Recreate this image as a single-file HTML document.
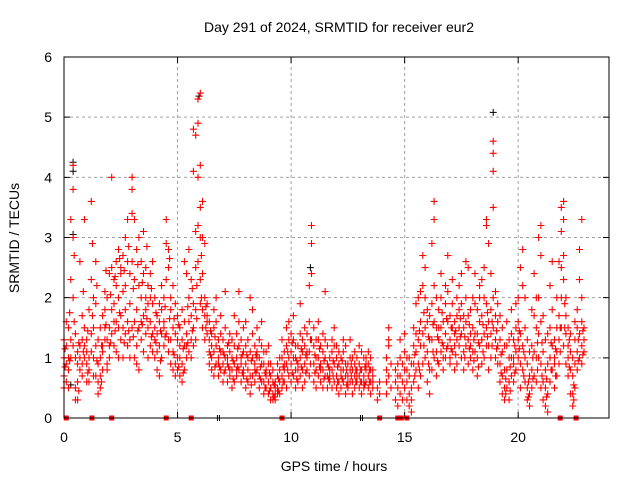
<!DOCTYPE html>
<html><head><meta charset="utf-8"><style>
html,body{margin:0;padding:0;background:#fff}
svg{display:block;font-family:"Liberation Sans",sans-serif}
</style></head><body>
<svg id="chart" width="640" height="480" viewBox="0 0 640 480">
<rect width="640" height="480" fill="#fff"/>
<text x="339" y="32" text-anchor="middle" font-size="14" fill="#000">Day 291 of 2024, SRMTID for receiver eur2</text>
<text x="334" y="471" text-anchor="middle" font-size="14" fill="#000">GPS time / hours</text>
<text transform="translate(19,238) rotate(-90)" text-anchor="middle" font-size="14" fill="#000">SRMTID / TECUs</text>
<g id="grid"></g>
<g id="ticks"></g>
<g id="black"></g>
<g id="red"></g>
<g id="zero"></g>
<rect x="64" y="57" width="545" height="361" fill="none" stroke="#000" stroke-width="1"/>
</svg>
<script>
const xTicks = [0, 5, 10, 15, 20];
const yTicks = [0, 1, 2, 3, 4, 5, 6];
const redData = [
[0.0,0.7,1.0,1.3,0.5],[0.1,0.9,1.2,1.6,0.6],[0.2,1.0,0.8,1.5,0.5],[0.3,1.3,2.3,3.3,1.0],[0.4,4.2,3.8,3.0,2.0,1.2],
[0.5,1.0,0.5,0.3,1.4],[0.6,0.3,0.6,0.9,1.1],[0.7,0.8,1.2,2.6,1.0],[0.8,1.3,0.9,0.7,1.7],[0.9,1.0,1.5,3.3,1.2],
[1.0,1.1,0.9,0.6,1.3],[1.1,0.6,1.0,1.8,0.8],[1.2,1.4,2.3,3.6,1.1],[1.3,1.5,2.0,1.0,0.7],[1.4,0.7,1.2,1.9,2.6],
[1.5,0.6,0.4,0.9,1.3],[1.6,0.5,0.7,1.0,1.5],[1.7,0.8,1.2,1.7,1.1],[1.8,1.3,1.8,2.1,1.5],[1.9,0.8,1.3,2.0,0.9],
[2.0,1.0,1.5,2.4,1.2],[2.1,1.8,2.5,4.0,1.4],[2.2,1.2,1.9,2.3,1.6],[2.3,1.6,2.2,2.6,1.1],[2.4,1.5,2.0,2.8,1.0],
[2.5,1.7,2.4,2.5,1.3],[2.6,1.0,1.5,2.1,2.7],[2.7,1.4,2.2,3.0,1.8],[2.8,1.6,2.6,3.3,1.2],[2.9,1.3,1.9,2.4,1.0],
[3.0,1.5,2.6,4.0,3.8,3.4],[3.1,1.0,1.6,2.3,3.3],[3.2,1.2,1.8,2.8,0.9],[3.3,0.8,1.5,2.2,3.0],[3.4,1.3,2.0,2.6,1.6],
[3.5,1.7,2.4,3.1,1.1],[3.6,1.4,2.0,2.5,1.8],[3.7,1.5,1.9,2.2,1.0],[3.8,1.2,1.6,2.0,2.4],[3.9,1.4,1.9,2.6,1.1],
[4.0,1.0,1.5,2.0,1.3],[4.1,1.1,1.7,1.4,0.8],[4.2,0.7,1.2,1.6,1.9],[4.3,1.0,1.4,1.8,2.2],[4.4,1.2,1.6,2.0,1.5],
[4.5,1.4,2.3,2.9,3.3],[4.6,1.3,2.5,2.8,1.1],[4.7,0.9,1.3,1.8,2.0],[4.8,0.8,1.1,1.5,2.2],[4.9,0.9,1.4,1.9,0.7],
[5.0,1.0,1.3,1.7,0.8],[5.1,0.7,1.0,1.5,1.2],[5.2,0.6,0.9,1.3,1.8],[5.3,0.8,1.2,1.6,2.6],[5.4,1.0,1.4,2.4,1.2],
[5.5,1.1,1.6,2.0,2.8],[5.6,1.3,1.7,2.3,1.0],[5.7,1.2,1.5,1.9,4.1,4.8],[5.8,1.3,1.8,2.5,3.1,4.7],[5.9,2.6,3.2,4.0,4.9,5.3],
[6.0,1.9,2.3,3.0,3.5,4.2,5.4],[6.1,1.5,1.8,2.4,3.0,3.6],[6.2,1.3,1.7,2.0,2.9],[6.3,1.4,1.7,1.9,1.6],[6.4,0.9,1.3,1.6,1.1],
[6.5,0.8,1.0,1.4,1.2],[6.6,0.7,1.1,1.5,1.8],[6.7,0.9,1.2,1.6,2.0],[6.8,0.7,1.0,1.3,0.9],[6.9,0.8,1.1,1.4,1.7],
[7.0,0.9,1.3,1.1,0.6],[7.1,0.8,1.0,1.5,2.1],[7.2,0.6,0.9,1.2,1.0],[7.3,0.7,1.1,1.4,0.8],[7.4,0.5,0.8,1.0,1.3],
[7.5,0.6,0.9,1.2,1.7],[7.6,0.7,1.0,1.4,0.8],[7.7,0.8,1.2,1.6,2.1],[7.8,0.6,0.9,1.3,1.0],[7.9,0.7,1.1,1.5,0.8],
[8.0,0.5,0.9,1.2,1.6],[8.1,0.6,0.8,1.0,1.3],[8.2,0.4,0.7,1.1,2.0],[8.3,0.7,1.0,1.4,1.8],[8.4,0.6,0.9,1.2,0.8],
[8.5,0.8,1.1,1.5,1.0],[8.6,0.5,0.7,1.0,1.3],[8.7,0.6,0.9,1.2,1.6],[8.8,0.4,0.6,0.9,1.1],[8.9,0.5,0.8,1.1,0.7],
[9.0,0.4,0.6,0.9,1.2],[9.1,0.3,0.5,0.7,0.9],[9.2,0.3,0.4,0.6,0.8],[9.3,0.3,0.5,0.6,0.4],[9.4,0.4,0.5,0.7,0.9],
[9.5,0.4,0.6,0.8,1.0],[9.6,0.5,0.7,1.0,1.3],[9.7,0.6,0.8,1.1,0.9],[9.8,0.5,0.9,1.2,1.5],[9.9,0.7,1.0,1.3,1.6],
[10.0,0.6,0.9,1.1,1.4],[10.1,0.7,1.0,1.3,1.7],[10.2,0.5,0.8,1.0,1.2],[10.3,0.6,0.9,1.2,0.8],[10.4,0.7,1.0,1.4,1.9],
[10.5,0.5,0.8,1.1,1.3],[10.6,0.6,0.9,1.2,1.5],[10.7,0.8,1.0,1.4,1.1],[10.8,0.7,1.1,1.6,2.2],[10.9,1.3,2.4,2.9,3.2],
[11.0,0.6,0.9,1.2,1.5],[11.1,0.5,0.8,1.0,1.3],[11.2,0.7,1.0,1.3,1.6],[11.3,0.6,0.9,1.2,0.8],[11.4,0.5,0.8,1.1,1.4],
[11.5,0.7,1.0,1.3,2.1],[11.6,0.5,0.7,0.9,1.2],[11.7,0.6,0.8,1.0,0.7],[11.8,0.5,0.8,1.1,1.3],[11.9,0.6,0.9,1.2,1.5],
[12.0,0.5,0.7,1.0,1.2],[12.1,0.4,0.6,0.9,1.1],[12.2,0.5,0.8,1.0,0.7],[12.3,0.6,0.8,1.1,1.3],[12.4,0.4,0.7,0.9,1.2],
[12.5,0.5,0.7,0.9,0.6],[12.6,0.6,0.8,1.0,1.3],[12.7,0.4,0.6,0.8,1.0],[12.8,0.5,0.7,0.9,1.1],[12.9,0.6,0.8,1.0,0.7],
[13.0,0.5,0.7,0.9,1.2],[13.1,0.4,0.6,0.8,1.1],[13.2,0.5,0.7,1.0,0.6],[13.3,0.6,0.8,1.0,0.9],[13.4,0.5,0.7,0.9,1.1],
[13.5,0.4,0.6,0.8,1.0],[13.6,0.5,0.7,0.8,0.6],[13.8,0.3,0.5],[13.9,0.4,0.6],
[14.2,0.4,0.6,0.8,1.0],[14.3,0.7,1.2,1.5,1.3],[14.4,0.5,0.9],[14.6,0.3,0.6,0.8],[14.7,0.2,0.5,0.7,0.9],
[14.8,0.4,0.7,1.0,1.3],[14.9,0.3,0.6,0.9],[15.0,0.5,0.8,1.1,1.4],[15.1,0.3,0.6,0.8,1.0],[15.2,0.2,0.4,0.7,1.0],
[15.3,0.1,0.3,0.5,0.9],[15.4,0.6,0.9,1.2,1.5],[15.5,0.8,1.1,1.4,1.9],[15.6,0.5,0.9,1.3,2.0],[15.7,0.7,1.2,1.6,2.1],
[15.8,0.9,1.4,2.2,2.7],[15.9,1.0,1.5,2.0,2.5],[16.0,0.6,1.1,1.6,1.8],[16.1,0.4,0.8,1.3,1.7],[16.2,0.8,1.3,1.9,2.9],
[16.3,1.0,1.6,2.2,3.3,3.6],[16.4,0.7,1.1,1.5,2.0],[16.5,0.9,1.3,1.8,1.5],[16.6,1.1,1.5,2.0,2.4],[16.7,0.8,1.2,1.6,1.0],
[16.8,1.0,1.4,1.9,2.2],[16.9,1.2,1.6,2.1,2.7],[17.0,1.0,1.3,1.7,0.9],[17.1,1.1,1.5,1.9,2.3],[17.2,0.8,1.2,1.6,1.4],
[17.3,0.9,1.3,1.7,2.0],[17.4,1.2,1.5,1.8,2.2],[17.5,1.0,1.4,1.9,2.4],[17.6,0.8,1.1,1.5,1.7],[17.7,1.2,1.6,2.0,2.6],
[17.8,0.9,1.3,1.7,2.5],[17.9,1.0,1.4,1.8,1.2],[18.0,0.8,1.1,1.5,2.0],[18.1,1.1,1.4,1.9,2.4],[18.2,0.7,1.0,1.4,1.8],
[18.3,1.2,1.6,2.0,2.2],[18.4,0.9,1.3,1.7,2.3],[18.5,1.0,1.4,2.0,2.5],[18.6,1.2,1.5,1.9,3.2,3.3],[18.7,0.8,1.2,1.6,2.9],
[18.8,1.0,1.4,1.8,2.4],[18.9,1.5,2.0,3.5,4.1,4.4,4.6],[19.0,1.0,1.3,1.7,2.1],[19.1,0.9,1.2,1.6,1.9],[19.2,0.6,0.9,1.3,1.7],
[19.3,0.4,0.7,1.1,1.5],[19.4,0.3,0.5,0.8,1.2],[19.5,0.5,0.8,1.2,1.6],[19.6,0.3,0.6,1.0,1.3],[19.7,0.7,1.0,1.4,1.8],
[19.8,0.6,1.0,1.3,0.9],[19.9,0.8,1.1,1.5,1.9],[20.0,1.0,1.3,1.6,2.0],[20.1,0.5,0.9,1.4,2.5],[20.2,0.8,1.2,2.2,2.8],
[20.3,0.6,1.0,1.5,2.0],[20.4,0.3,0.5,0.9,1.3],[20.5,0.2,0.4,0.7,1.1],[20.6,0.5,0.8,1.2,1.8],[20.7,0.7,1.1,1.7,2.4],
[20.8,0.6,1.0,1.5,2.0],[20.9,1.0,1.4,2.0,3.0],[21.0,0.5,0.9,1.6,2.7,3.2],[21.1,0.3,0.6,1.1,1.7],[21.2,0.2,0.5,0.8,1.3],
[21.3,0.1,0.4,0.9,1.4],[21.4,0.6,1.0,1.5,2.2],[21.5,0.8,1.2,1.8,2.6],[21.6,0.5,0.9,1.3,1.0],[21.7,0.7,1.1,1.5,2.0],
[21.8,0.9,1.3,1.7,2.6],[21.9,1.5,2.0,2.5,3.1,3.5],[22.0,1.2,2.3,2.7,3.3,3.6],[22.1,0.9,1.4,2.0,1.7],[22.2,0.7,1.0,1.5,1.2],
[22.3,0.4,0.8,1.1,1.4],[22.4,0.2,0.4,0.7,1.0],[22.5,0.5,0.9,1.3,1.6],[22.6,0.8,1.1,1.5,1.8],[22.7,1.0,1.4,2.3,2.8],
[22.8,0.9,1.2,1.6,2.0,3.3],[22.9,1.1,1.3,1.5]
];
const redExtra = [
[0.05,0.85,1.15],[0.25,0.95,1.75],[0.45,2.7,1.6],[0.65,0.45,1.25],[0.85,1.1,2.1],[1.05,0.75,1.45],[1.25,1.7,2.9],[1.45,0.95,2.2],
[1.65,0.6,1.2],[1.85,1.55,2.45],[2.05,1.25,2.05],[2.25,1.45,2.35],[2.45,1.75,2.65],[2.65,1.25,2.45],[2.85,1.45,2.85],[3.05,1.35,2.15],
[3.25,1.45,2.55],[3.45,1.55,2.25],[3.65,1.65,2.85],[3.85,1.35,2.15],[4.05,1.25,1.75],[4.25,0.95,1.45],[4.45,1.35,1.85],[4.65,1.65,2.65],
[4.85,1.05,1.65],[5.05,0.85,1.55],[5.25,0.75,1.15],[5.45,1.25,1.85],[5.65,1.45,2.15],[5.85,1.65,2.2],[6.05,2.0,2.7],[6.25,1.5,1.85],
[6.45,1.05,1.45],[6.65,0.85,1.35],[6.85,0.85,1.15],[7.05,0.75,1.05],[7.25,0.85,1.25],[7.45,0.65,0.95],[7.65,0.85,1.15],[7.85,0.75,1.05],
[8.05,0.65,1.05],[8.25,0.55,0.95],[8.45,0.75,1.05],[8.65,0.65,0.85],[8.85,0.5,0.75],[9.05,0.45,0.75],[9.25,0.35,0.55],[9.45,0.45,0.65],
[9.65,0.6,0.85],[9.85,0.8,1.1],[10.05,0.75,1.25],[10.25,0.65,0.95],[10.45,0.85,1.15],[10.65,0.75,1.05],[10.85,0.9,1.3],[11.05,0.75,1.05],
[11.25,0.85,1.15],[11.45,0.65,0.95],[11.65,0.65,0.85],[11.85,0.7,0.95],[12.05,0.6,0.85],[12.25,0.65,0.95],[12.45,0.55,0.8],[12.65,0.7,0.9],
[12.85,0.6,0.8],[13.05,0.6,0.8],[13.25,0.55,0.85],[13.45,0.6,0.8],[15.45,0.7,1.05],[15.65,0.8,1.45],[15.85,1.2,1.75],[16.05,0.9,1.35],
[16.25,1.1,1.55],[16.45,0.95,1.35],[16.65,1.25,1.75],[16.85,1.15,1.65],[17.05,1.15,1.5],[17.25,1.05,1.45],[17.45,1.35,1.65],[17.65,1.0,1.35],
[17.85,1.15,1.55],[18.05,0.95,1.3],[18.25,0.85,1.25],[18.45,1.1,1.55],[18.65,1.35,1.75],[18.85,1.2,1.6],[19.05,1.15,1.45],[19.25,0.75,1.05],
[19.45,0.4,0.65],[19.65,0.45,0.85],[19.85,0.75,1.2],[20.05,1.15,1.45],[20.25,0.7,1.1],[20.45,0.35,0.6],[20.65,0.65,1.0],[20.85,0.8,1.25],
[21.05,0.7,1.25],[21.25,0.35,0.65],[21.45,0.8,1.25],[21.65,0.7,1.15],[21.85,1.1,1.5],[22.05,1.5,1.9],[22.25,0.85,1.3],[22.45,0.3,0.55],
[22.65,0.95,1.3],[22.85,1.05,1.45]
];
const blackData = [
[0.3,0.55],[0.4,4.25],[0.4,4.1],[0.4,3.05],[5.95,5.35],[10.9,3.2],[10.85,2.5],[18.9,5.08]
];
const redZeroTimes = [0.1, 1.23, 2.1, 4.5, 5.6, 9.6, 13.9, 14.7, 14.85, 15.1, 21.85, 22.55];
const blackZeroTimes = [6.8, 13.1];

const X0=64, X1=609, Y0=418, Y1=57, XMAX=24, YMAX=6;
function sx(t){return X0+(X1-X0)*t/XMAX;}
function sy(v){return Y0-(Y0-Y1)*v/YMAX;}
const NS='http://www.w3.org/2000/svg';
function mk(tag,attrs,parent){const e=document.createElementNS(NS,tag);for(const k in attrs)e.setAttribute(k,attrs[k]);parent.appendChild(e);return e;}

const grid=document.getElementById('grid'), ticks=document.getElementById('ticks');
xTicks.forEach(t=>{
  const x=sx(t);
  if(t>0){const g=mk('line',{x1:x,y1:Y0,x2:x,y2:Y1,stroke:'#a0a0a0','stroke-dasharray':'3,3'},grid);
  
  }
  const tk=mk('path',{d:`M${x},${Y0}v-6M${x},${Y1}v6`,stroke:'#000'},ticks);
  
  
  const lb=mk('text',{x:x,y:Y0+24,'text-anchor':'middle','font-size':14},ticks);
  lb.textContent=t;
  
  
});
yTicks.forEach(v=>{
  const y=sy(v);
  if(v>0&&v<YMAX){const g=mk('line',{x1:X0,y1:y,x2:X1,y2:y,stroke:'#a0a0a0','stroke-dasharray':'3,3'},grid);
  
  }
  const tk=mk('path',{d:`M${X0},${y}h6M${X1},${y}h-6`,stroke:'#000'},ticks);
  
  
  const lb=mk('text',{x:X0-12,y:y+5,'text-anchor':'end','font-size':14},ticks);
  lb.textContent=v;
  
  
});
function plus(x,y){return `M${(x-3.5).toFixed(1)},${y.toFixed(1)}h7M${x.toFixed(1)},${(y-3.5).toFixed(1)}v7`;}
let bd='';
blackData.forEach(p=>{bd+=plus(sx(p[0]),sy(p[1]));});
const bp=mk('path',{d:bd,stroke:'#000','stroke-width':1,fill:'none'},document.getElementById('black'));


let rd='';
redData.forEach(row=>{const t=row[0];for(let i=1;i<row.length;i++)rd+=plus(sx(t),sy(row[i]));});
redExtra.forEach(row=>{const t=row[0];for(let i=1;i<row.length;i++)rd+=plus(sx(t),sy(row[i]));});
const rp=mk('path',{d:rd,stroke:'#f00','stroke-width':1.1,fill:'none'},document.getElementById('red'));


const zg=document.getElementById('zero');
redZeroTimes.forEach(t=>{
  const r=mk('rect',{x:sx(t)-2.5,y:Y0-2.5,width:5,height:5,fill:'#f00'},zg);
  
  
});
blackZeroTimes.forEach(t=>{
  const x=sx(t);
  const r=mk('path',{d:`M${x-1},${Y0-3}v6M${x+1},${Y0-3}v6`,stroke:'#000'},zg);
  
  
});
</script>
</body></html>
